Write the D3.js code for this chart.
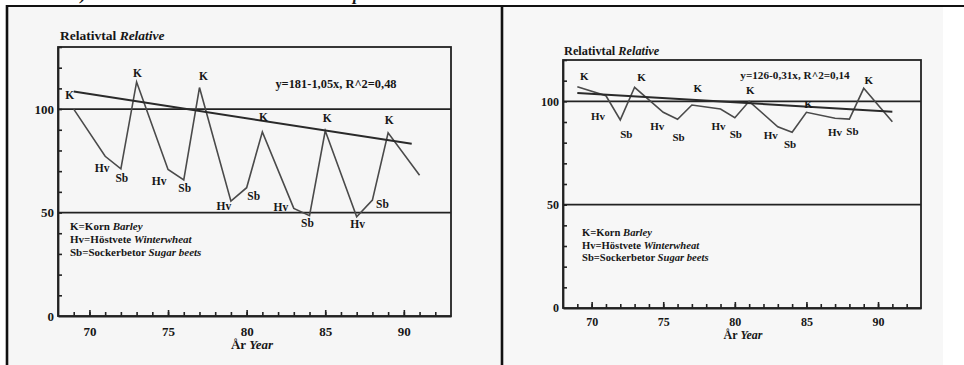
<!DOCTYPE html>
<html>
<head>
<meta charset="utf-8">
<script src="https://cdn.jsdelivr.net/npm/d3@7"></script>
<style>
  body { margin: 0; background: #fff; }
  text { font-family: "Liberation Serif", "DejaVu Serif", serif; font-weight: bold; fill: #161616; }
</style>
</head>
<body>
<div id="chart"></div>
<script>

// ---- data ----
var years = [69, 71, 72, 73, 75, 76, 77, 79, 80, 81, 83, 84, 85, 87, 88, 89, 91];
var crops = ["K", "Hv", "Sb", "K", "Hv", "Sb", "K", "Hv", "Sb", "K", "Hv", "Sb", "K", "Hv", "Sb", "K", ""];

// left panel
var relativeA = [100, 77.2, 71.1, 113.1, 70.8, 65.8, 110.4, 55.5, 62, 89, 52, 48.5, 89.5, 48, 56, 88.5, 68];
var trendYearsA = [69, 90.5];
var trendValuesA = [108.5, 83.2];
var equationA = "y=181-1,05x, R^2=0,48";

// right panel
var relativeB = [107.1, 102.7, 91, 106.8, 94.7, 91.3, 98.2, 96.3, 92.1, 100, 87.7, 85, 94.7, 91.8, 91.4, 106.3, 90.1];
var trendYearsB = [69, 91];
var trendValuesB = [104, 95];
var equationB = "y=126-0,31x, R^2=0,14";

var refLines = [50, 100];
var yLabelTicks = [0, 50, 100];
var xLabelTicks = [70, 75, 80, 85, 90];
var legendLines = [["K=Korn ", "Barley"], ["Hv=Höstvete ", "Winterwheat"], ["Sb=Sockerbetor ", "Sugar beets"]];

// ---- label nudges (pixels, layout only) ----
var nudgeA = [[-4,-14],[-3,12],[1,9],[1,-9],[-9,12],[1,8],[4,-12],[-7,5],[7,8],[1,-15],[-13,-1],[-2,7],[2,-13],[1,7],[10,4],[1,-13],[0,0]];
var nudgeB = [[7,-11],[-8,20],[6,14],[7,-10],[-6,14],[1,18],[6,-17],[-2,17],[1,16],[1,-11],[-7,8],[-2,12],[2,-8],[0,14],[3,12],[5,-8],[0,0]];

var W = 964, H = 365;

var svg = d3.select("#chart").append("svg")
  .attr("width", W)
  .attr("height", H);

// scanned page background
svg.append("rect").attr("x", 0).attr("y", 0).attr("width", W).attr("height", H).attr("fill", "#fff");
svg.append("rect").attr("x", 8).attr("y", 7).attr("width", 493).attr("height", H - 7).attr("fill", "#f6f6f6");
svg.append("rect").attr("x", 503).attr("y", 7).attr("width", 440).attr("height", H - 7).attr("fill", "#f7f7f7");

// page frame
svg.append("line").attr("x1", 6).attr("x2", W).attr("y1", 6).attr("y2", 6)
  .attr("stroke", "#111").attr("stroke-width", 2.2);
svg.append("line").attr("x1", 7).attr("x2", 7).attr("y1", 5).attr("y2", H)
  .attr("stroke", "#111").attr("stroke-width", 2.6);
svg.append("line").attr("x1", 502).attr("x2", 502).attr("y1", 5).attr("y2", H)
  .attr("stroke", "#111").attr("stroke-width", 2.6);

// caption above, cut off by the page edge as in the scan
svg.append("text").attr("x", 72).attr("y", 0).attr("font-size", "17px")
  .attr("font-style", "italic").attr("font-weight", "normal").text("a)");
svg.append("text").attr("x", 353).attr("y", 0).attr("font-size", "17px")
  .attr("font-style", "italic").attr("font-weight", "normal").text("p");

function drawPanel(p) {
  var g = svg.append("g");

  var x = d3.scaleLinear().domain([68, 93]).range([p.left, p.right]);
  var y = d3.scaleLinear().domain([0, p.yMax]).range([p.bottom, p.top]);

  // frame
  g.append("rect")
    .attr("x", p.left).attr("y", p.top)
    .attr("width", p.right - p.left).attr("height", p.bottom - p.top)
    .attr("fill", "none").attr("stroke", "#222").attr("stroke-width", 1.8);

  // reference lines 50 and 100
  g.selectAll(".ref").data(refLines).enter().append("line")
    .attr("x1", p.left).attr("x2", p.right)
    .attr("y1", function(d) { return y(d); })
    .attr("y2", function(d) { return y(d); })
    .attr("stroke", "#222").attr("stroke-width", 1.7);

  // y axis: inward ticks every 10, labels 0/50/100
  var yMinor = d3.axisLeft(y).tickValues(d3.range(10, p.yMax + 1, 10))
    .tickSizeInner(-4).tickSizeOuter(0).tickFormat("");
  var yAx = g.append("g").attr("transform", "translate(" + p.left + ",0)").call(yMinor);
  yAx.select(".domain").attr("stroke", "#222").attr("stroke-width", 1.8);
  yAx.selectAll(".tick line").attr("stroke", "#222").attr("stroke-width", 1.6);

  var yLab = d3.axisLeft(y).tickValues(yLabelTicks).tickSize(0).tickPadding(p.yPad);
  var yl = g.append("g").attr("transform", "translate(" + p.left + ",0)").call(yLab);
  yl.select(".domain").remove();
  yl.selectAll("text").attr("font-family", null).attr("font-size", p.tickFont + "px");

  // x axis: inward ticks every year, longer at fives
  var xMinor = d3.axisBottom(x).tickValues(d3.range(69, 93))
    .tickSizeInner(-4).tickSizeOuter(0).tickFormat("");
  var xAx = g.append("g").attr("transform", "translate(0," + p.bottom + ")").call(xMinor);
  xAx.select(".domain").attr("stroke", "#222").attr("stroke-width", 1.8);
  xAx.selectAll(".tick line").attr("stroke", "#222").attr("stroke-width", 1.6);

  var xLab = d3.axisBottom(x).tickValues(xLabelTicks)
    .tickSizeInner(-6).tickSizeOuter(0).tickPadding(p.xPad).tickFormat(d3.format("d"));
  var xl = g.append("g").attr("transform", "translate(0," + p.bottom + ")").call(xLab);
  xl.select(".domain").remove();
  xl.selectAll(".tick line").attr("stroke", "#222").attr("stroke-width", 1.6);
  xl.selectAll("text").attr("font-family", null).attr("font-size", p.tickFont + "px");

  // data line
  var pts = years.map(function(yr, i) { return [yr, p.values[i]]; });
  var line = d3.line().x(function(d) { return x(d[0]); }).y(function(d) { return y(d[1]); });
  g.append("path").datum(pts).attr("d", line)
    .attr("fill", "none").attr("stroke", "#4a4a4a").attr("stroke-width", 1.6)
    .attr("stroke-linejoin", "miter");

  // trend line
  var tr = p.trendYears.map(function(yr, i) { return [yr, p.trendValues[i]]; });
  g.append("path").datum(tr).attr("d", line)
    .attr("fill", "none").attr("stroke", "#2a2a2a").attr("stroke-width", 2);

  // crop labels
  g.selectAll(".crop").data(pts).enter().append("text")
    .attr("x", function(d, i) { return x(d[0]) + p.nudge[i][0]; })
    .attr("y", function(d, i) { return y(d[1]) + p.nudge[i][1]; })
    .attr("text-anchor", "middle").attr("dominant-baseline", "central")
    .attr("font-size", p.labelFont + "px")
    .text(function(d, i) { return crops[i]; });

  // title
  var t = g.append("text").attr("x", p.titleX).attr("y", p.titleY).attr("font-size", p.titleFont + "px");
  t.append("tspan").text("Relativtal ");
  t.append("tspan").attr("font-style", "italic").text("Relative");

  // equation
  g.append("text").attr("x", p.eqX).attr("y", p.eqY).attr("text-anchor", "middle")
    .attr("font-size", p.eqFont + "px").text(p.equation);

  // legend
  g.selectAll(".leg").data(legendLines).enter().append("text")
    .attr("x", p.legX)
    .attr("y", function(d, i) { return p.legY[i]; })
    .attr("font-size", p.legFont + "px")
    .each(function(d) {
      d3.select(this).append("tspan").text(d[0]);
      d3.select(this).append("tspan").attr("font-style", "italic").text(d[1]);
    });

  // x title
  var xt = g.append("text").attr("x", p.xTitleX).attr("y", p.xTitleY)
    .attr("text-anchor", "middle").attr("font-size", p.tickFont + "px");
  xt.append("tspan").text("År ");
  xt.append("tspan").attr("font-style", "italic").text("Year");
}

drawPanel({
  left: 58, right: 451, top: 47, bottom: 316, yMax: 130,
  values: relativeA, trendYears: trendYearsA, trendValues: trendValuesA,
  equation: equationA, nudge: nudgeA,
  tickFont: 13, labelFont: 11.5, titleFont: 13.5, eqFont: 12.4, legFont: 11,
  yPad: 4, xPad: 11,
  titleX: 60, titleY: 40, eqX: 336, eqY: 88,
  legX: 70, legY: [230, 243, 256],
  xTitleX: 252, xTitleY: 349
});

drawPanel({
  left: 563, right: 921, top: 60, bottom: 308, yMax: 120,
  values: relativeB, trendYears: trendYearsB, trendValues: trendValuesB,
  equation: equationB, nudge: nudgeB,
  tickFont: 12, labelFont: 11, titleFont: 12.3, eqFont: 11.2, legFont: 10.6,
  yPad: 4, xPad: 9,
  titleX: 564, titleY: 55, eqX: 795, eqY: 79,
  legX: 582, legY: [236, 248.5, 261],
  xTitleX: 743, xTitleY: 339
});
</script>
</body>
</html>
